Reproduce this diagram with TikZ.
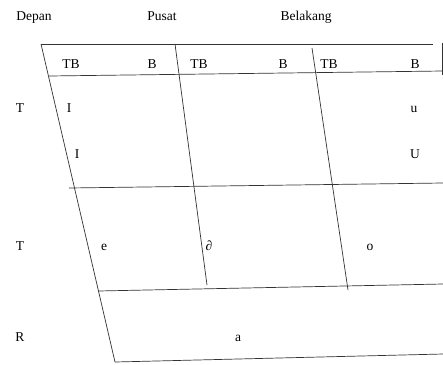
\documentclass[tikz,border=0pt]{standalone}
\usepackage{fontspec}
\setmainfont{Liberation Serif}
\begin{document}
\begin{tikzpicture}[x=1pt,y=-1pt,
  ln/.style={line width=0.7pt,draw=black!80},
  lbl/.style={anchor=base,inner sep=0pt,font=\fontsize{13.5}{15}\selectfont}]
\useasboundingbox[fill=white] (0,0) rectangle (443,364);
% corner coordinates
\coordinate (tl) at (41,44);
\coordinate (tr) at (433,44);
\coordinate (st) at (442,43);
\coordinate (sb) at (442,75);
\coordinate (h2l) at (49,76);
\coordinate (h2r) at (443,71);
\coordinate (h3l) at (69,188);
\coordinate (h3r) at (443,183);
\coordinate (h4l) at (98,291);
\coordinate (h4r) at (443,284);
\coordinate (bl) at (115,362);
\coordinate (br) at (443,354);
\coordinate (d2t) at (175,44);
\coordinate (d2b) at (207,285);
\coordinate (d3t) at (312,48);
\coordinate (d3b) at (348,290);
% lines
\draw[ln] (tl) -- (tr);
\draw[ln] (st) -- (sb);
\draw[ln] (h2l) -- (h2r);
\draw[ln] (h3l) -- (h3r);
\draw[ln] (h4l) -- (h4r);
\draw[ln] (bl) -- (br);
\draw[ln] (tl) -- (bl);
\draw[ln] (d2t) -- (d2b);
\draw[ln] (d3t) -- (d3b);
% labels
\node[lbl] (depan) at (34,20) {Depan};
\node[lbl] (pusat) at (162,20) {Pusat};
\node[lbl] (belakang) at (306,20) {Belakang};
\node[lbl] (tb1) at (71,68) {TB};
\node[lbl] (b1) at (152,68) {B};
\node[lbl] (tb2) at (199,68) {TB};
\node[lbl] (b2) at (283,68) {B};
\node[lbl] (tb3) at (329,68) {TB};
\node[lbl] (b3) at (415,68) {B};
\node[lbl] (t1) at (20,112) {T};
\node[lbl] (i1) at (69,112) {I};
\node[lbl] (u1) at (414,112) {u};
\node[lbl] (i2) at (77,158) {I};
\node[lbl] (u2) at (415,158) {U};
\node[lbl] (t2) at (20,250) {T};
\node[lbl] (e) at (104,250) {e};
\node[lbl] (schwa) at (209,250) {∂};
\node[lbl] (o) at (370,250) {o};
\node[lbl] (r) at (20,341) {R};
\node[lbl] (a) at (238,341) {a};
\end{tikzpicture}
\end{document}
